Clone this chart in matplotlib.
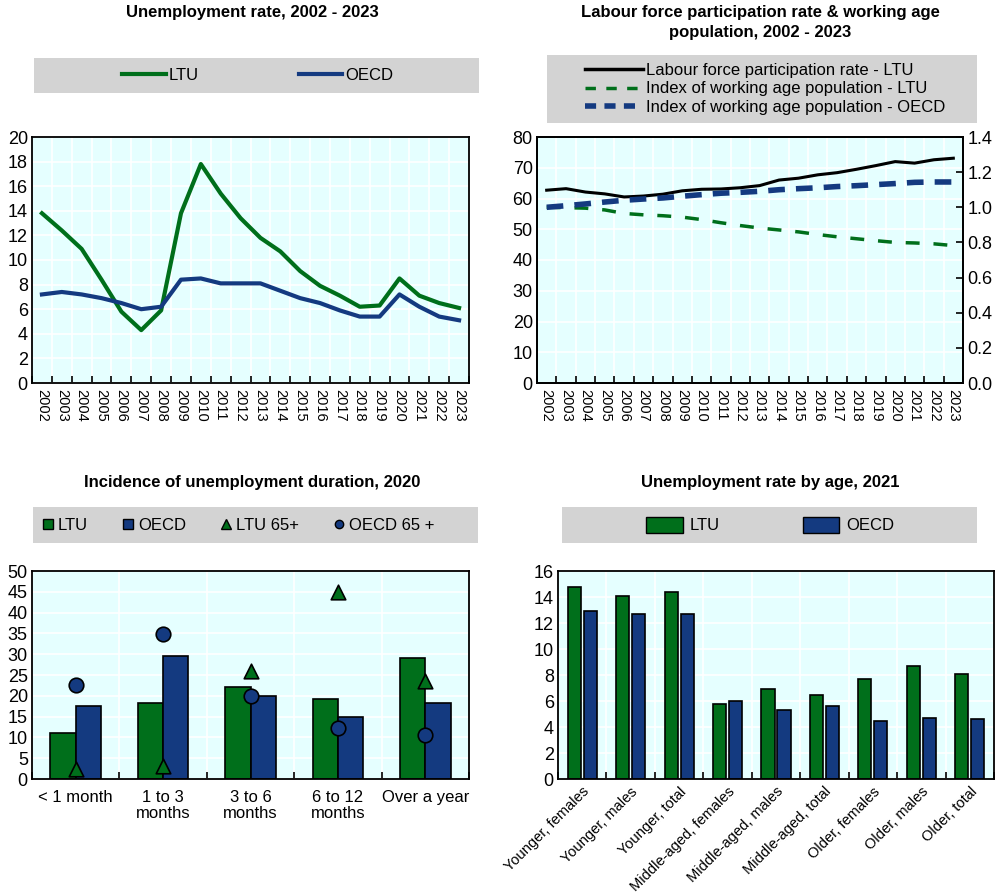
import numpy as np
import matplotlib.pyplot as plt
from matplotlib.patches import Rectangle
from matplotlib.lines import Line2D

plt.rcParams['font.family'] = ['Liberation Sans', 'DejaVu Sans']

GREEN = '#006f1b'
BLUE = '#143a80'
BG = '#e5ffff'
GREY = '#d3d3d3'

years = [str(y) for y in range(2002, 2024)]
unemp_ltu = [13.8, 12.4, 10.9, 8.4, 5.8, 4.3, 5.9, 13.8, 17.8, 15.4, 13.4,
             11.8, 10.7, 9.1, 7.9, 7.1, 6.2, 6.3, 8.5, 7.1, 6.5, 6.1]
unemp_oecd = [7.2, 7.4, 7.2, 6.9, 6.5, 6.0, 6.2, 8.4, 8.5, 8.1, 8.1,
              8.1, 7.5, 6.9, 6.5, 5.9, 5.4, 5.4, 7.2, 6.2, 5.4, 5.1]

lfp_ltu = [62.7, 63.2, 62.1, 61.5, 60.5, 60.8, 61.4, 62.5, 63.0, 63.1, 63.5,
           64.2, 66.0, 66.6, 67.7, 68.4, 69.5, 70.7, 72.0, 71.5, 72.6, 73.1]
wap_ltu = [1.0, 0.998, 0.995, 0.985, 0.965, 0.957, 0.952, 0.944, 0.93, 0.912, 0.896,
           0.882, 0.871, 0.86, 0.845, 0.832, 0.821, 0.81, 0.8, 0.797, 0.792, 0.782]
wap_oecd = [1.0, 1.009, 1.019, 1.03, 1.04, 1.047, 1.053, 1.063, 1.072, 1.08, 1.085,
            1.091, 1.1, 1.106, 1.111, 1.118, 1.123, 1.129, 1.135, 1.142, 1.144, 1.144]

dur_cats = ['< 1 month', '1 to 3\nmonths', '3 to 6\nmonths', '6 to 12\nmonths', 'Over a year']
dur_ltu = [11.0, 18.3, 22.2, 19.2, 29.2]
dur_oecd = [17.5, 29.6, 20.0, 15.0, 18.3]
dur_ltu65 = [2.3, 3.2, 26.0, 45.0, 23.5]
dur_oecd65 = [22.6, 34.8, 20.0, 12.3, 10.5]

age_cats = ['Younger, females', 'Younger, males', 'Younger, total',
            'Middle-aged, females', 'Middle-aged, males', 'Middle-aged, total',
            'Older, females', 'Older, males', 'Older, total']
age_ltu = [14.8, 14.1, 14.4, 5.8, 6.9, 6.5, 7.7, 8.7, 8.1]
age_oecd = [12.9, 12.7, 12.7, 6.0, 5.3, 5.6, 4.5, 4.7, 4.6]

W, H = 1000, 893
fig = plt.figure(figsize=(10, 8.93), dpi=100)


def fbox(x0, y0, x1, y1):
    # pixel box -> figure fraction [left, bottom, width, height]
    return [x0 / W, 1 - y1 / H, (x1 - x0) / W, (y1 - y0) / H]


def style_ax(ax, n):
    ax.set_facecolor(BG)
    for s in ax.spines.values():
        s.set_color('black')
        s.set_linewidth(1.3)
    ax.set_xlim(-0.5, n - 0.5)
    ax.set_xticks(np.arange(n + 1) - 0.5)
    ax.set_xticklabels([])
    ax.set_xticks(np.arange(n), minor=True)
    ax.tick_params(axis='x', which='major', direction='in', length=5, width=1.2, color='black')
    ax.tick_params(axis='x', which='minor', length=0, pad=4)
    ax.tick_params(axis='y', length=0, labelsize=13, pad=3)
    ax.grid(True, which='major', color='white', linewidth=1.2)
    ax.set_axisbelow(True)


def legend_box(x0, y0, x1, y1):
    fig.patches.append(Rectangle((x0 / W, 1 - y1 / H), (x1 - x0) / W, (y1 - y0) / H,
                                 transform=fig.transFigure, facecolor=GREY,
                                 edgecolor='none', zorder=0))


title_font = dict(family=['Liberation Sans Narrow', 'Liberation Sans', 'DejaVu Sans'],
                  fontweight='bold', fontsize=12, ha='center', va='center')
leg_font = 12

# ---- top left: unemployment rate
ax1 = fig.add_axes(fbox(32, 137, 469, 383))
style_ax(ax1, len(years))
x = np.arange(len(years))
ax1.plot(x, unemp_ltu, color=GREEN, lw=3, label='LTU', solid_joinstyle='round')
ax1.plot(x, unemp_oecd, color=BLUE, lw=3, label='OECD', solid_joinstyle='round')
ax1.set_ylim(0, 20)
ax1.set_yticks(range(0, 21, 2))
ax1.set_xticklabels(years, minor=True, rotation=-90, fontsize=10.5)
fig.text(252 / W, 1 - 12 / H, 'Unemployment rate, 2002 - 2023', **title_font)
legend_box(34, 58, 479, 93)
fig.legend(handles=[Line2D([], [], color=GREEN, lw=3), Line2D([], [], color=BLUE, lw=3)],
           labels=['LTU', 'OECD'], loc='center', bbox_to_anchor=(258 / W, 1 - 75 / H),
           ncol=2, frameon=False, fontsize=leg_font, handlelength=2.6, handletextpad=0.2,
           columnspacing=6)

# ---- top right: labour force participation
ax2 = fig.add_axes(fbox(537, 137, 963, 383))
style_ax(ax2, len(years))
ax2.plot(x, lfp_ltu, color='black', lw=2.2)
ax2.set_ylim(0, 80)
ax2.set_yticks(range(0, 81, 10))
ax2.set_xticklabels(years, minor=True, rotation=-90, fontsize=10.5)
ax2b = ax2.twinx()
ax2b.plot(x, wap_ltu, color=GREEN, lw=2.5, dashes=(4, 4))
ax2b.plot(x, wap_oecd, color=BLUE, lw=4, dashes=(3, 2))
ax2b.set_ylim(0, 1.4)
ax2b.set_yticks(np.arange(0, 1.41, 0.2))
ax2b.set_yticklabels([f'{v:.1f}' for v in np.arange(0, 1.41, 0.2)])
ax2b.tick_params(axis='y', direction='in', length=5, width=1.2, labelsize=13, pad=3)
for s in ax2b.spines.values():
    s.set_linewidth(1.3)
fig.text(760 / W, 1 - 12 / H, 'Labour force participation rate & working age', **title_font)
fig.text(760 / W, 1 - 33 / H, 'population, 2002 - 2023', **title_font)
legend_box(547, 55, 977, 123)
fig.legend(handles=[Line2D([], [], color='black', lw=2.5),
                    Line2D([], [], color=GREEN, lw=2.5, dashes=(3, 3)),
                    Line2D([], [], color=BLUE, lw=4, dashes=(2, 1.5))],
           labels=['Labour force participation rate - LTU',
                   'Index of working age population - LTU',
                   'Index of working age population - OECD'],
           loc='center', bbox_to_anchor=(765 / W, 1 - 89 / H), frameon=False,
           fontsize=leg_font, handlelength=3.5, handletextpad=0.2, labelspacing=0.2)

# ---- bottom left: duration
ax3 = fig.add_axes(fbox(32, 571, 469, 779))
style_ax(ax3, len(dur_cats))
xd = np.arange(len(dur_cats))
bw = 0.29
ax3.bar(xd - bw / 2, dur_ltu, bw, color=GREEN, edgecolor='black', lw=1.2, zorder=2)
ax3.bar(xd + bw / 2, dur_oecd, bw, color=BLUE, edgecolor='black', lw=1.2, zorder=2)
ax3.scatter(xd, dur_ltu65, marker='^', s=110, color=GREEN, edgecolor='black', lw=1.2, zorder=3)
ax3.scatter(xd, dur_oecd65, marker='o', s=110, color=BLUE, edgecolor='black', lw=1.2, zorder=3)
ax3.set_ylim(0, 50)
ax3.set_yticks(range(0, 51, 5))
ax3.set_xticklabels(dur_cats, minor=True, fontsize=12, linespacing=1.1)
ax3.tick_params(axis='x', which='minor', pad=8)
fig.text(252 / W, 1 - 482 / H, 'Incidence of unemployment duration, 2020', **title_font)
legend_box(33, 507, 478, 543)
fig.legend(handles=[Line2D([], [], ls='', marker='s', ms=7, mfc=GREEN, mec='black'),
                    Line2D([], [], ls='', marker='s', ms=7, mfc=BLUE, mec='black'),
                    Line2D([], [], ls='', marker='^', ms=7, mfc=GREEN, mec='black'),
                    Line2D([], [], ls='', marker='o', ms=6, mfc=BLUE, mec='black')],
           labels=['LTU', 'OECD', 'LTU 65+', 'OECD 65 +'], loc='center',
           bbox_to_anchor=(238 / W, 1 - 525 / H), ncol=4, frameon=False, fontsize=leg_font,
           handlelength=0.8, handletextpad=0.2, columnspacing=2.0)

# ---- bottom right: unemployment by age
ax4 = fig.add_axes(fbox(558, 571, 994, 779))
style_ax(ax4, len(age_cats))
xa = np.arange(len(age_cats))
bw = 0.27
ax4.bar(xa - 0.165, age_ltu, bw, color=GREEN, edgecolor='black', lw=1.2, zorder=2)
ax4.bar(xa + 0.165, age_oecd, bw, color=BLUE, edgecolor='black', lw=1.2, zorder=2)
ax4.set_ylim(0, 16)
ax4.set_yticks(range(0, 17, 2))
ax4.set_xticklabels(age_cats, minor=True, rotation=45, ha='right', rotation_mode='anchor',
                    fontsize=10.5)
ax4.tick_params(axis='x', which='minor', pad=4)
fig.text(770 / W, 1 - 482 / H, 'Unemployment rate by age, 2021', **title_font)
legend_box(562, 507, 977, 543)
fig.legend(handles=[Rectangle((0, 0), 1, 1, fc=GREEN, ec='black'),
                    Rectangle((0, 0), 1, 1, fc=BLUE, ec='black')],
           labels=['LTU', 'OECD'], loc='center', bbox_to_anchor=(770 / W, 1 - 525 / H),
           ncol=2, frameon=False, fontsize=leg_font, handlelength=2.2, handleheight=1.1,
           handletextpad=0.4, columnspacing=5)

fig.savefig('out.png', dpi=100)
